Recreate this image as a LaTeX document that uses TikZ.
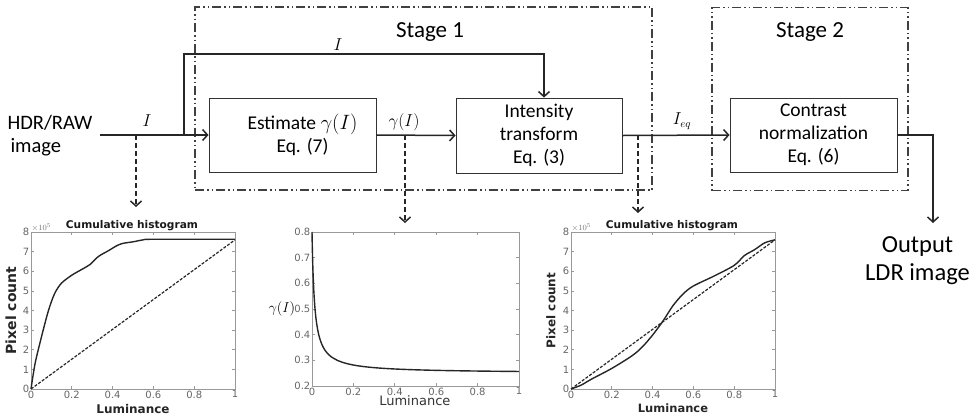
\documentclass[tikz,border=0pt]{standalone}
\usepackage{fontspec}
\setmainfont{Carlito}
\newfontfamily\plotfont{DejaVu Sans}
\usetikzlibrary{arrows.meta}
\begin{document}
\begin{tikzpicture}[x=1pt,y=-1pt,
  flow/.style={draw=black!85, line width=1.5pt},
  tipv/.style={-{Straight Barb[length=5pt,width=11pt,line width=1.5pt]}},
  probe/.style={draw=black!85, line width=1.4pt, dash pattern=on 5pt off 3pt},
  proc/.style={draw=black!80, line width=0.9pt, align=center, inner sep=0pt,
     font=\fontsize{19.5}{23}\selectfont},
  stagebox/.style={draw=black!75, line width=1.1pt, inner sep=0pt,
     dash pattern=on 9pt off 3pt on 1.5pt off 3pt on 1.5pt off 3pt},
  stagelab/.style={font=\fontsize{23}{26}\selectfont},
  txt/.style={font=\fontsize{20.5}{23}\selectfont, align=center},
  mlab/.style={font=\fontsize{16}{19}\selectfont, inner sep=0pt},
  axbox/.style={draw=black!40, line width=0.7pt},
  ticklab/.style={font=\plotfont\fontsize{10}{12}\selectfont, text=black!60, inner sep=1.5pt},
  ptitle/.style={font=\plotfont\bfseries\fontsize{10.6}{12}\selectfont, text=black!90, inner sep=1pt},
  paxis/.style={font=\plotfont\bfseries\fontsize{12}{14}\selectfont, text=black!85, inner sep=1pt},
  curve/.style={draw=black!85, line width=1.4pt},
  diag/.style={draw=black!85, line width=1.2pt, dash pattern=on 3pt off 1.5pt},
  expo/.style={font=\plotfont\fontsize{8}{9}\selectfont, text=black!55, inner sep=0.5pt}
]
\useasboundingbox (0,0) rectangle (977,416);

% stage boxes
\node[stagebox, minimum width=457pt, minimum height=183pt] (s1) at (423.5,98.5) {};
\node[stagebox, minimum width=196pt, minimum height=183pt] (s2) at (810,99) {};
\node[stagelab] (s1l) at (430,32) {Stage 1};
\node[stagelab] (s2l) at (810,32) {Stage 2};

% process boxes
\node[proc, minimum width=167pt, minimum height=74pt] (est) at (292.5,135) {\hspace*{20pt}Estimate $\gamma(I)$\\\hspace*{20pt}Eq. (7)};
\node[proc, minimum width=166pt, minimum height=75pt] (int) at (539,135.5) {Intensity\\transform\\Eq. (3)};
\node[proc, minimum width=167pt, minimum height=74pt] (con) at (813.5,135) {Contrast\\normalization\\Eq. (6)};

% input / output text
\node[txt, align=left, anchor=west] (inp) at (4,136) {HDR/RAW\\\hspace*{3pt}image};
\node[txt, font=\fontsize{24.5}{28}\selectfont] (outp) at (917.5,261) {Output\\LDR image};

% coordinates
\coordinate (in) at (100,135);
\coordinate (br) at (184,135);
\coordinate (top) at (184,54);
\coordinate (outc) at (933,135);
\coordinate (outend) at (933,223);
\coordinate (d1s) at (136,135);
\coordinate (d1e) at (136,207);
\coordinate (d2s) at (405,135);
\coordinate (d2e) at (405,223);
\coordinate (d3s) at (638,135);
\coordinate (d3e) at (638,213);

% connectors
\draw[flow,tipv] (in) -- (est.west);
\draw[flow,tipv] (br) -- (top) -| ([xshift=5pt]int.north);
\draw[flow,tipv] (est.east) -- (int.west);
\draw[flow,tipv] (int.east) -- (con.west);
\draw[flow,tipv] (con.east) -- (outc) -- (outend);

\draw[probe,tipv] (d1s) -- (d1e);
\draw[probe,tipv] (d2s) -- (d2e);
\draw[probe,tipv] (d3s) -- (d3e);

% connector labels
\node[mlab] (l1) at (147,121) {$I$};
\node[mlab] (l2) at (338,45) {$I$};
\node[mlab] (l3) at (404,122) {$\gamma(I)$};
\node[mlab] (l4) at (682,121) {$I_{eq}$};

% ---------- plot 1 ----------
\begin{scope}[shift={(31,389)}, x=204pt, y=19.625pt]
  \draw[axbox] (0,0) rectangle (1,8);
  \foreach \t/\l in {0/0,0.2/0.2,0.4/0.4,0.6/0.6,0.8/0.8,1/1}{
    \draw[axbox] (\t,0) -- ++(0,3pt);
    \draw[axbox] (\t,8) -- ++(0,-3pt);
    \node[ticklab, anchor=north] at (\t,0) {\l};
  }
  \foreach \v in {0,...,8}{
    \draw[axbox] (0,\v) -- ++(3pt,0);
    \draw[axbox] (1,\v) -- ++(-3pt,0);
    \node[ticklab, anchor=east] at (0,\v) {\v};
  }
  \draw[diag] (0,0) -- (1,7.6);
  \draw[curve] plot[smooth, tension=0.5] coordinates {(0,0) (0.02,1.3) (0.05,2.6) (0.08,3.8) (0.1,4.45) (0.12,4.95) (0.15,5.4) (0.2,5.8) (0.25,6.1) (0.29,6.35) (0.33,6.75) (0.38,7.05) (0.42,7.3) (0.45,7.42) (0.5,7.5) (0.55,7.6) (0.6,7.63) (1,7.63)};
  \node[ptitle, anchor=south] at (0.495,8) {Cumulative histogram};
  \node[expo, anchor=south west] at (0,8) {$\times10^5$};
  \node[paxis, font=\plotfont\bfseries\fontsize{14}{16}\selectfont, rotate=90] at ([xshift=-20pt]0,4) {Pixel count};
  \node[paxis] at ([yshift=-20pt]0.5,0) {Luminance};
\end{scope}

% ---------- plot 2 ----------
\begin{scope}[shift={(312,386)}, x=207pt, y=256.67pt]
  \draw[axbox] (0,0) rectangle (1,0.6);
  \foreach \t/\l in {0/0,0.2/0.2,0.4/0.4,0.6/0.6,0.8/0.8,1/1}{
    \draw[axbox] (\t,0) -- ++(0,3pt);
    \draw[axbox] (\t,0.6) -- ++(0,-3pt);
    \node[ticklab, anchor=north] at (\t,0) {\l};
  }
  \foreach \v/\l in {0/0.2,0.1/0.3,0.2/0.4,0.3/0.5,0.4/0.6,0.5/0.7,0.6/0.8}{
    \draw[axbox] (0,\v) -- ++(3pt,0);
    \draw[axbox] (1,\v) -- ++(-3pt,0);
    \node[ticklab, anchor=east] at (0,\v) {\l};
  }
  \draw[curve] (0,0.6) -- plot[domain=0.0003:0.1, samples=80] (\x, {0.05 + 0.00673/(\x+0.01224)})
     -- plot[domain=0.1:1, samples=40] (\x, {0.05 + 0.00673/(\x+0.01224)});
  \node[font=\fontsize{14.5}{17}\selectfont, inner sep=0pt] at ([xshift=-30pt]0,0.3) {$\gamma(I)$};
  \node[font=\plotfont\fontsize{13}{15}\selectfont, text=black!80] at ([yshift=-15pt]0.497,0) {Luminance};
\end{scope}

% ---------- plot 3 ----------
\begin{scope}[shift={(571,389)}, x=204pt, y=19.625pt]
  \draw[axbox] (0,0) rectangle (1,8);
  \foreach \t/\l in {0/0,0.2/0.2,0.4/0.4,0.6/0.6,0.8/0.8,1/1}{
    \draw[axbox] (\t,0) -- ++(0,3pt);
    \draw[axbox] (\t,8) -- ++(0,-3pt);
    \node[ticklab, anchor=north] at (\t,0) {\l};
  }
  \foreach \v in {0,...,8}{
    \draw[axbox] (0,\v) -- ++(3pt,0);
    \draw[axbox] (1,\v) -- ++(-3pt,0);
    \node[ticklab, anchor=east] at (0,\v) {\v};
  }
  \draw[diag] (0,0) -- (1,7.6);
  \draw[curve] plot[smooth, tension=0.5] coordinates {(0,0) (0.05,0.2) (0.1,0.5) (0.2,1.05) (0.3,1.7) (0.35,2.15) (0.4,2.75) (0.45,3.45) (0.5,4.25) (0.55,4.85) (0.6,5.25) (0.7,5.75) (0.8,6.3) (0.85,6.8) (0.9,7.1) (0.95,7.45) (1,7.6)};
  \node[ptitle, anchor=south] at (0.495,8) {Cumulative histogram};
  \node[expo, anchor=south west] at (0,8) {$\times10^5$};
  \node[paxis, rotate=90] at ([xshift=-20pt]0,4) {Pixel count};
  \node[paxis, font=\plotfont\bfseries\fontsize{11.5}{13}\selectfont] at ([yshift=-19.5pt]0.5,0) {Luminance};
\end{scope}
\end{tikzpicture}
\end{document}
